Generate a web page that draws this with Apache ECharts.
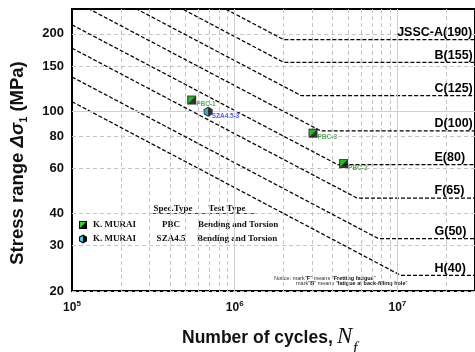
<!DOCTYPE html>
<html>
<head>
<meta charset="utf-8">
<script src="https://cdn.jsdelivr.net/npm/echarts@6/dist/echarts.min.js"></script>
<style>
  html, body { margin: 0; padding: 0; background: #fff; }
  #chart { width: 475px; height: 352px; }
</style>
</head>
<body>
<div id="chart"></div>
<script>
// JSSC fatigue design curves (stress at 1e5 cycles, knee point, cut-off limit)
const curveNames = ['JSSC-A(190)', 'B(155)', 'C(125)', 'D(100)', 'E(80)', 'F(65)', 'G(50)', 'H(40)'];
const curveStart = [516, 421, 339, 271, 217, 176, 136, 109];
const kneeCycles = [2.0e6, 2.0e6, 2.57e6, 3.37e6, 4.30e6, 5.64e6, 7.63e6, 1.05e7];
const cutoffStress = [190, 155, 115, 84, 62, 46, 32, 23];

// test results
const pbcNames = ['PBC-1', 'PBC-3', 'PBC-2'];
const pbcCycles = [5.44e5, 3.03e6, 4.67e6];
const pbcStress = [110.6, 82.2, 62.6];
const szaNames = ['SZA4.5-3'];
const szaCycles = [6.87e5];
const szaStress = [99.7];

// axes
const xLabelTicks = [1e5, 1e6, 1e7];
const xGridTicks = [2e5, 3e5, 4e5, 5e5, 6e5, 7e5, 8e5, 9e5, 1e6,
  2e6, 3e6, 4e6, 5e6, 6e6, 7e6, 8e6, 9e6, 1e7, 2e7];
const yLabelTicks = [20, 30, 40, 60, 80, 100, 150, 200];

const X_MIN = 1e5, X_MAX = 3e7;
const LABEL_N = 1.68e7, LABEL_N_A = 9.9e6;

const chart = echarts.init(document.getElementById('chart'));

const hexPath = 'path://M5 0L10 2.5L10 7.5L5 10L0 7.5L0 2.5Z';
const halfHexPath = 'path://M5 0L5 10L0 7.5L0 2.5Z';
const triPath = 'path://M0 0L10 0L0 10Z';

const curveSeries = curveNames.map(function (name, i) {
  return {
    type: 'line',
    name: name,
    z: 3,
    symbol: 'none',
    silent: true,
    data: [[X_MIN, curveStart[i]], [kneeCycles[i], cutoffStress[i]], [X_MAX, cutoffStress[i]]],
    lineStyle: { color: '#000', width: 1.25, type: [4, 2] },
    markPoint: {
      symbol: 'circle',
      symbolSize: 1,
      silent: true,
      itemStyle: { color: 'rgba(0,0,0,0)' },
      label: {
        show: true, position: 'right', distance: 0, offset: [0, -7],
        formatter: name, color: '#000', fontSize: 12.5, fontWeight: 'bold',
        fontFamily: 'Liberation Sans'
      },
      data: [{ coord: [i === 0 ? LABEL_N_A : LABEL_N, cutoffStress[i]] }]
    }
  };
});

const pbcData = pbcCycles.map((n, i) => ({ name: pbcNames[i], value: [n, pbcStress[i]] }));
const szaData = szaCycles.map((n, i) => ({ name: szaNames[i], value: [n, szaStress[i]] }));

const legendFont = 'bold 9px "Liberation Serif"';

chart.setOption({
  animation: false,
  textStyle: { fontFamily: 'Liberation Sans' },
  grid: {
    left: 72, top: 9, right: -3, bottom: 61,
    show: true, borderColor: '#000', borderWidth: 2, backgroundColor: 'transparent'
  },
  xAxis: {
    type: 'log', min: X_MIN, max: X_MAX,
    axisLine: { show: false },
    axisTick: { show: false, customValues: xGridTicks },
    splitLine: { show: true, lineStyle: { color: '#c4c4c4', width: 1, type: [4, 3] } },
    axisLabel: {
      customValues: xLabelTicks,
      margin: 9,
      formatter: function (v) {
        return '{b|10}{s|' + Math.round(Math.log10(v)) + '}';
      },
      rich: {
        b: { fontSize: 12, fontWeight: 'bold', color: '#111', lineHeight: 16 },
        s: { fontSize: 8, fontWeight: 'bold', color: '#111', lineHeight: 8, verticalAlign: 'top' }
      }
    }
  },
  yAxis: {
    type: 'log', min: 20, max: 250,
    axisLine: { show: false },
    axisTick: { show: false, customValues: yLabelTicks },
    splitLine: { show: true, lineStyle: { color: '#c4c4c4', width: 1, type: [4, 3] } },
    axisLabel: {
      customValues: yLabelTicks,
      margin: 8, fontSize: 13, fontWeight: 'bold', color: '#111'
    }
  },
  series: [
    {
      type: 'line', data: [], z: 1, silent: true,
      markLine: {
        silent: true, symbol: ['none', 'none'], label: { show: false },
        lineStyle: { color: '#cfcfcf', width: 1, type: 'solid' },
        data: [{ xAxis: 1e6 }, { xAxis: 1e7 }, { yAxis: 100 }]
      }
    }
  ].concat(curveSeries, [
    {
      type: 'scatter', z: 5, data: pbcData, symbol: 'rect', symbolSize: 9,
      itemStyle: { color: '#000' },
      label: {
        show: true, position: 'right', distance: 0, offset: [0, 4.5],
        formatter: '{b}', fontSize: 6.5, fontWeight: 'bold', color: '#2f9a2f'
      }
    },
    {
      type: 'scatter', z: 6, data: pbcData, symbol: triPath, symbolSize: 7,
      itemStyle: { color: '#1fe01f' }
    },
    {
      type: 'scatter', z: 5, data: szaData, symbol: hexPath, symbolSize: [9, 10],
      itemStyle: { color: '#000' },
      label: {
        show: true, position: 'right', distance: -1, offset: [0, 5],
        formatter: '{b}', fontSize: 6.5, fontWeight: 'bold', color: '#2b3bff'
      }
    },
    {
      type: 'scatter', z: 6, data: szaData, symbol: halfHexPath, symbolSize: [3.6, 7.5],
      symbolOffset: [-1.9, 0],
      itemStyle: { color: '#33d0ee' }
    }
  ]),
  graphic: [
    // y axis title
    {
      type: 'text', x: 18, y: 163, rotation: Math.PI / 2, silent: true,
      style: {
        text: '{a|Stress range }{g|Δσ}{s|1}{a| (MPa)}',
        align: 'center', verticalAlign: 'middle',
        textAlign: 'center', textVerticalAlign: 'middle',
        rich: {
          a: { fontSize: 18.5, fontWeight: 'bold', fontFamily: 'Liberation Sans', fill: '#111', lineHeight: 22 },
          g: { fontSize: 18.5, fontWeight: 'bold', fontStyle: 'italic', fontFamily: 'Liberation Sans', fill: '#111', lineHeight: 22 },
          s: { fontSize: 11, fontWeight: 'bold', fontFamily: 'Liberation Sans', fill: '#111', lineHeight: 11, verticalAlign: 'bottom' }
        }
      }
    },
    // x axis title
    {
      type: 'text', x: 182, y: 338, silent: true,
      style: { text: 'Number of cycles,', font: 'bold 17.5px "Liberation Sans"', fill: '#111', align: 'left', verticalAlign: 'middle', textAlign: 'left', textVerticalAlign: 'middle' }
    },
    {
      type: 'text', x: 337, y: 337, silent: true,
      style: { text: 'N', font: 'italic 23px "Liberation Serif"', fill: '#111', align: 'left', verticalAlign: 'middle', textAlign: 'left', textVerticalAlign: 'middle' }
    },
    {
      type: 'text', x: 353, y: 349, silent: true,
      style: { text: 'f', font: 'italic 16px "Liberation Serif"', fill: '#111', align: 'left', verticalAlign: 'middle', textAlign: 'left', textVerticalAlign: 'middle' }
    },
    // legend table
    { type: 'text', x: 173, y: 209, silent: true, style: { text: 'Spec.Type', font: legendFont, fill: '#111', align: 'center', verticalAlign: 'middle', textAlign: 'center', textVerticalAlign: 'middle' } },
    { type: 'text', x: 227, y: 209, silent: true, style: { text: 'Test Type', font: legendFont, fill: '#111', align: 'center', verticalAlign: 'middle', textAlign: 'center', textVerticalAlign: 'middle' } },
    { type: 'line', silent: true, shape: { x1: 150, y1: 213.5, x2: 257, y2: 213.5 }, style: { stroke: '#444', lineWidth: 1 } },
    { type: 'rect', silent: true, shape: { x: 79, y: 221, width: 8, height: 8 }, style: { fill: '#000' } },
    { type: 'polygon', silent: true, shape: { points: [[80, 222], [86, 222], [80, 228]] }, style: { fill: '#1fe01f' } },
    { type: 'polygon', silent: true, shape: { points: [[83, 234.5], [87, 236.8], [87, 241.2], [83, 243.5], [79, 241.2], [79, 236.8]] }, style: { fill: '#000' } },
    { type: 'polygon', silent: true, shape: { points: [[83, 235.8], [83, 242.2], [80, 240.5], [80, 237.5]] }, style: { fill: '#33d0ee' } },
    { type: 'text', x: 93, y: 225, silent: true, style: { text: 'K. MURAI', font: legendFont, fill: '#111', align: 'left', verticalAlign: 'middle', textAlign: 'left', textVerticalAlign: 'middle' } },
    { type: 'text', x: 171, y: 225, silent: true, style: { text: 'PBC', font: legendFont, fill: '#111', align: 'center', verticalAlign: 'middle', textAlign: 'center', textVerticalAlign: 'middle' } },
    { type: 'text', x: 198, y: 225, silent: true, style: { text: 'Bending and Torsion', font: legendFont, fill: '#111', align: 'left', verticalAlign: 'middle', textAlign: 'left', textVerticalAlign: 'middle' } },
    { type: 'text', x: 93, y: 239, silent: true, style: { text: 'K. MURAI', font: legendFont, fill: '#111', align: 'left', verticalAlign: 'middle', textAlign: 'left', textVerticalAlign: 'middle' } },
    { type: 'text', x: 171, y: 239, silent: true, style: { text: 'SZA4.5', font: legendFont, fill: '#111', align: 'center', verticalAlign: 'middle', textAlign: 'center', textVerticalAlign: 'middle' } },
    { type: 'text', x: 197, y: 239, silent: true, style: { text: 'Bending and Torsion', font: legendFont, fill: '#111', align: 'left', verticalAlign: 'middle', textAlign: 'left', textVerticalAlign: 'middle' } },
    // notice
    {
      type: 'text', x: 274, y: 278, silent: true,
      style: {
        text: '{n|Notice: mark"}{b|F}{n|" means "}{b|Fretting fatigue}{n|"}',
        align: 'left', verticalAlign: 'middle', textAlign: 'left', textVerticalAlign: 'middle',
        rich: {
          n: { fontSize: 5.5, fontFamily: 'Liberation Sans', fill: '#333' },
          b: { fontSize: 5.5, fontWeight: 'bold', fontFamily: 'Liberation Sans', fill: '#111' }
        }
      }
    },
    {
      type: 'text', x: 296, y: 283.5, silent: true,
      style: {
        text: '{n|mark"}{b|B}{n|" means "}{b|fatigue at back-filling hole}{n|"}',
        align: 'left', verticalAlign: 'middle', textAlign: 'left', textVerticalAlign: 'middle',
        rich: {
          n: { fontSize: 5.5, fontFamily: 'Liberation Sans', fill: '#333' },
          b: { fontSize: 5.5, fontWeight: 'bold', fontFamily: 'Liberation Sans', fill: '#111' }
        }
      }
    }
  ]
});
</script>
</body>
</html>
